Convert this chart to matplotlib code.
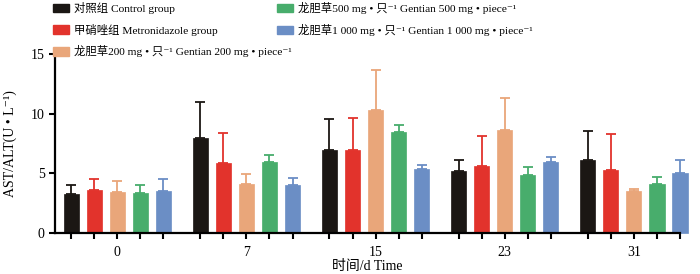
import matplotlib
matplotlib.use("Agg")
import matplotlib.pyplot as plt
import numpy as np
from matplotlib.patches import Patch

plt.rcParams['font.family'] = ['Liberation Serif', 'Noto Sans CJK SC', 'DejaVu Sans']

days = ["0", "7", "15", "23", "31"]
groups = ["对照组 Control group",
          "甲硝唑组 Metronidazole group",
          "龙胆草200 mg • 只⁻¹ Gentian 200 mg • piece⁻¹",
          "龙胆草500 mg • 只⁻¹ Gentian 500 mg • piece⁻¹",
          "龙胆草1 000 mg • 只⁻¹ Gentian 1 000 mg • piece⁻¹"]
colors = ["#1b1714", "#e2332c", "#e9a67a", "#48ad6c", "#6b8ec5"]

control = [3.28, 7.92, 6.91, 5.20, 6.12]
control_err = [0.77, 3.08, 2.61, 0.90, 2.45]
metro = [3.60, 5.87, 6.91, 5.62, 5.31]
metro_err = [0.95, 2.50, 2.75, 2.50, 3.00]
g200 = [3.43, 4.13, 10.28, 8.65, 3.48]
g200_err = [0.92, 0.81, 3.37, 2.70, 0.20]
g500 = [3.31, 5.96, 8.48, 4.89, 4.10]
g500_err = [0.68, 0.56, 0.59, 0.62, 0.59]
g1000 = [3.51, 4.04, 5.37, 5.96, 5.03]
g1000_err = [0.98, 0.59, 0.33, 0.44, 1.09]

values = [control, metro, g200, g500, g1000]
errors = [control_err, metro_err, g200_err, g500_err, g1000_err]

fig = plt.figure(figsize=(7.0, 2.74), dpi=100)
ax = fig.add_axes([0.0786, 0.15, 0.8928, 0.653])

group_step = 5.6
width = 0.66
all_pos = []
handles = []
for j, (vals, errs, c) in enumerate(zip(values, errors, colors)):
    pos = np.arange(len(days)) * group_step + j
    all_pos.extend(pos)
    ax.bar(pos, vals, width=width, color=c, edgecolor=c, linewidth=0.5,
           zorder=2, clip_on=False)
    eb = ax.errorbar(pos, vals, yerr=[np.zeros(len(vals)), errs], fmt='none',
                     ecolor=c, elinewidth=1.3, capsize=3.3, capthick=1.3, zorder=1)
    for art in eb.lines[1] + eb.lines[2]:
        art.set_clip_on(False)
    handles.append(Patch(facecolor=c, edgecolor=c))

all_pos = sorted(all_pos)
ax.set_xticks(all_pos)
labels = []
for p in all_pos:
    g = int(round(p // group_step))
    k = p - g * group_step
    labels.append(days[g] if abs(k - 2) < 1e-6 else "")
ax.set_xticklabels(labels, fontsize=10)
ax.set_xlim(-0.7, 4 * group_step + 4)
ax.set_ylim(0, 15)
ax.set_yticks([0, 5, 10, 15])
ax.tick_params(axis='both', direction='out', length=4.5, width=1.5, labelsize=10, pad=3)
ax.tick_params(axis='x', pad=5)
for s in ['top', 'right']:
    ax.spines[s].set_visible(False)
for s in ['left', 'bottom']:
    ax.spines[s].set_linewidth(1.6)
ax.set_ylabel("AST/ALT(U • L⁻¹)", fontsize=10, labelpad=10)
ax.set_xlabel("时间/d Time", fontsize=10, labelpad=1)

kw = dict(loc='upper left', frameon=False, fontsize=8.2,
          handlelength=1.4, handleheight=0.75, handletextpad=0.45,
          labelspacing=0.85, borderaxespad=0, borderpad=0)
leg1 = fig.legend(handles[:3], groups[:3], bbox_to_anchor=(0.076, 0.993), **kw)
leg2 = fig.legend(handles[3:], groups[3:], bbox_to_anchor=(0.396, 0.993), **kw)

fig.savefig("out.png", dpi=100)
